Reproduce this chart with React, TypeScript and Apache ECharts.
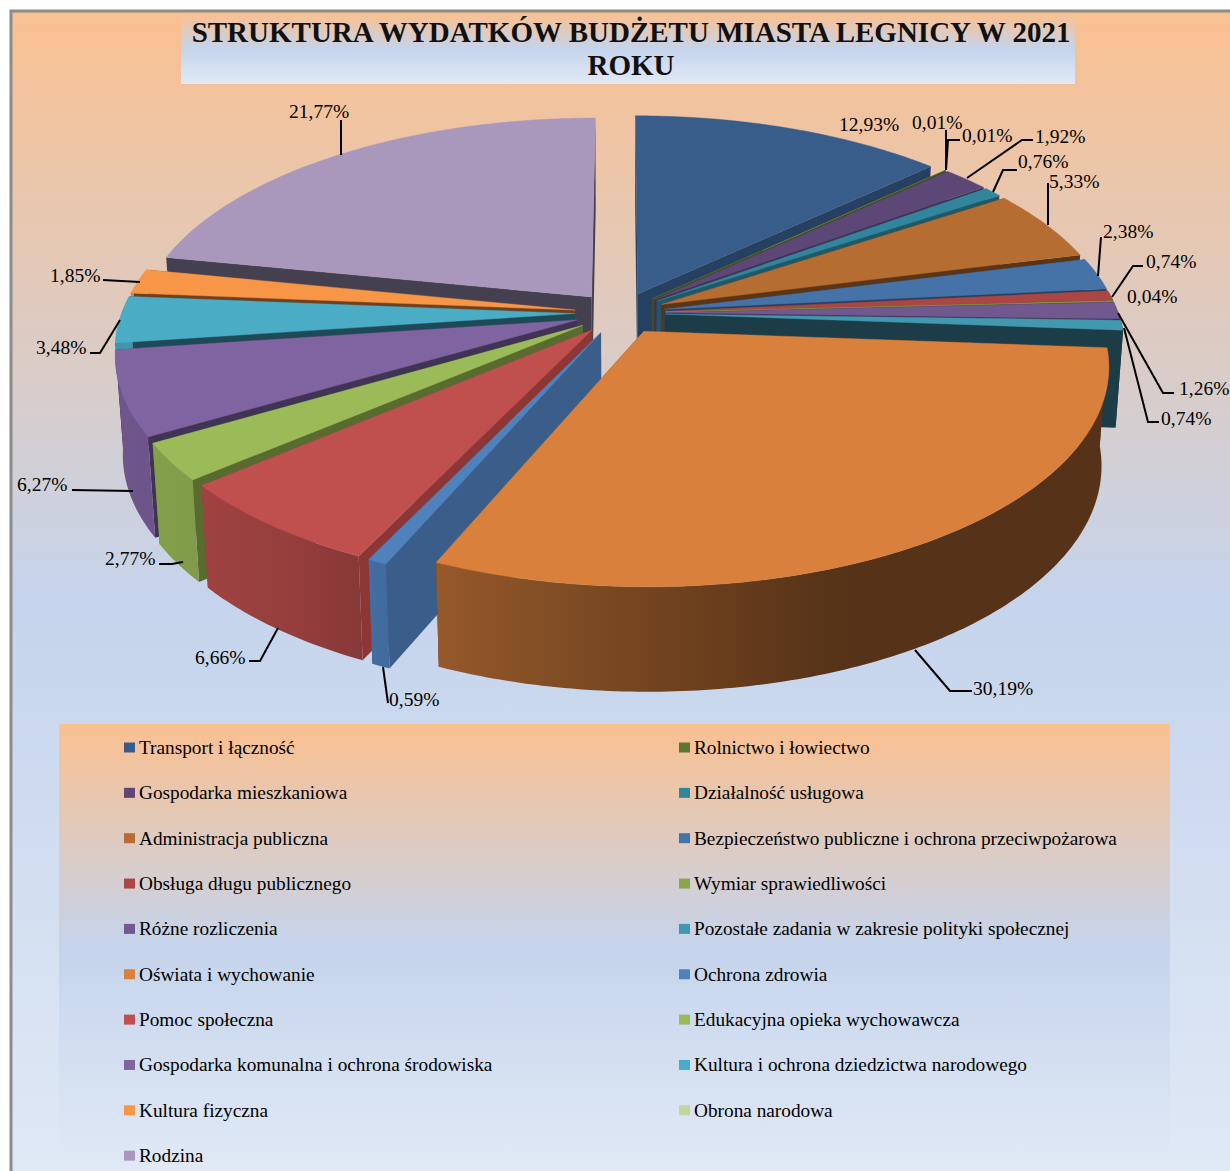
import React, { useEffect, useRef } from "react";
import * as echarts from "echarts";

const TITLE = "STRUKTURA WYDATKÓW BUDŻETU MIASTA LEGNICY W 2021\nROKU";

// Legend order
const categories = [
  "Transport i łączność",
  "Rolnictwo i łowiectwo",
  "Gospodarka mieszkaniowa",
  "Działalność usługowa",
  "Administracja publiczna",
  "Bezpieczeństwo publiczne i ochrona przeciwpożarowa",
  "Obsługa długu publicznego",
  "Wymiar sprawiedliwości",
  "Różne rozliczenia",
  "Pozostałe zadania w zakresie polityki społecznej",
  "Oświata i wychowanie",
  "Ochrona zdrowia",
  "Pomoc społeczna",
  "Edukacyjna opieka wychowawcza",
  "Gospodarka komunalna i ochrona środowiska",
  "Kultura i ochrona dziedzictwa narodowego",
  "Kultura fizyczna",
  "Obrona narodowa",
  "Rodzina",
];
const values = [12.93, 0.01, 1.92, 0.76, 5.33, 2.38, 0.74, 0.04, 1.26, 0.74, 30.19, 0.59, 6.66, 2.77, 6.27, 3.48, 1.85, 0.01, 21.77];

// Clockwise order of the slices, as indices into categories
const sliceOrder = [0, 1, 17, 2, 3, 4, 5, 6, 7, 8, 9, 10, 11, 12, 13, 14, 15, 16, 18];

// Styling tables, by category index
const topColors = ["#385d8a", "#5f7530", "#5c4776", "#31859c", "#b66d31", "#4573a7", "#aa4644", "#89a54e", "#71588f", "#4198af", "#d8803c", "#4f81bd", "#bf504e", "#9bbb59", "#8064a2", "#4bacc6", "#f79646", "#c3d69b", "#aa98bc"];
const sideColors = ["#254061", "#3f4f20", "#3f3152", "#205867", "#5a3518", "#24405f", "#6f2e2d", "#56682f", "#3f3152", "#1c3c48", "#5a3518", "#3a5d8a", "#8c3735", "#5a6b2f", "#403455", "#1e4a58", "#6e4020", "#3f4f20", "#45404f"];
const faceStroke: Record<number, number> = { 1: 0.9, 17: 0 };
const wallBoost: Record<number, number> = { 11: 1.2 };

// Data-label placement, by category index: text left/middle and leader polyline
const labelLayout: Record<number, { x: number; y: number; line?: number[][] }> = {
  0: { x: 839, y: 124 },
  1: { x: 912, y: 122, line: [[946, 130], [946, 170]] },
  17: { x: 962, y: 135, line: [[960, 140], [948, 140], [946, 170]] },
  2: { x: 1035, y: 136, line: [[1033, 140], [1022, 140], [967, 178]] },
  3: { x: 1018, y: 161, line: [[1017, 170], [1003, 170], [993, 192]] },
  4: { x: 1049, y: 181, line: [[1048, 183], [1048, 225]] },
  5: { x: 1103, y: 231, line: [[1101, 237], [1098, 276]] },
  6: { x: 1146, y: 261, line: [[1143, 266], [1133, 266], [1112, 297]] },
  7: { x: 1127, y: 296 },
  8: { x: 1179, y: 388, line: [[1174, 393], [1163, 393], [1118, 313]] },
  9: { x: 1161, y: 418, line: [[1159, 422], [1148, 422], [1124, 328]] },
  10: { x: 973, y: 688, line: [[972, 691], [950, 691], [915, 650]] },
  11: { x: 389, y: 699, line: [[388, 703], [383, 667]] },
  12: { x: 195, y: 657, line: [[249, 661], [260, 661], [278, 628]] },
  13: { x: 105, y: 558, line: [[159, 564], [172, 564], [183, 562]] },
  14: { x: 17, y: 484, line: [[72, 490], [133, 491]] },
  15: { x: 36, y: 347, line: [[90, 353], [100, 353], [120, 320]] },
  16: { x: 50, y: 275, line: [[103, 280], [140, 282]] },
  18: { x: 289, y: 111, line: [[341, 120], [341, 155]] },
};

// Projection of the 3D pie
const CX = 620, CY = 313, W = 453, A = 210.6, B = 0.152, DEPTH = 97, DEPTH_B = 0.07, LEAN = 0.015, EXPLODE = 0.1;

const total = values.reduce((a, b) => a + b, 0);
const rad = (d: number) => (d * Math.PI) / 180;

const angles: Record<number, { start: number; end: number; mid: number }> = {};
{
  let acc = 0;
  sliceOrder.forEach((idx) => {
    const start = (acc / total) * 360;
    acc += values[idx];
    const end = (acc / total) * 360;
    angles[idx] = { start, end, mid: (start + end) / 2 };
  });
}

function project(u: number, v: number, z: number): number[] {
  const den = 1 + B * v;
  return [CX + ((W * u) / den) * (1 - LEAN * z), CY - (A * v) / den + (z * DEPTH) / (1 + DEPTH_B * v)];
}
function slicePoint(mid: number, theta: number, r: number, z: number) {
  const ou = EXPLODE * Math.sin(rad(mid));
  const ov = EXPLODE * Math.cos(rad(mid));
  return project(ou + r * Math.sin(rad(theta)), ov + r * Math.cos(rad(theta)), z);
}

const SHADE_STOPS = [[80, 0.4], [160, 0.4], [175, 0.5], [190, 0.6], [203, 0.69], [215, 0.78], [235, 0.85], [280, 0.87]];
function shade(theta: number) {
  for (let i = 1; i < SHADE_STOPS.length; i++) {
    const [a, sa] = SHADE_STOPS[i - 1];
    const [b, sb] = SHADE_STOPS[i];
    if (theta <= b) return sa + ((sb - sa) * (theta - a)) / (b - a);
  }
  return 0.87;
}
function scaled(hex: string, k: number) {
  const n = parseInt(hex.slice(1), 16);
  const c = [(n >> 16) & 255, (n >> 8) & 255, n & 255].map((x) => Math.round(x * k));
  return `rgb(${c[0]},${c[1]},${c[2]})`;
}

function arcThetas(s: number, e: number) {
  const out: number[] = [];
  const steps = Math.max(1, Math.ceil((e - s) / 0.8));
  for (let i = 0; i <= steps; i++) out.push(s + ((e - s) * i) / steps);
  return out;
}

function renderSlice(idx: number) {
  const { start, end, mid } = angles[idx];
  const children: any[] = [];
  const color = topColors[idx];
  const side = sideColors[idx];

  const radial = (t: number) => ({
    type: "polygon",
    shape: { points: [slicePoint(mid, t, 0, 0), slicePoint(mid, t, 1, 0), slicePoint(mid, t, 1, 1), slicePoint(mid, t, 0, 1)] },
    style: { fill: side },
  });
  // Back-facing radial wall first
  const startN = Math.cos(rad(start - 90));
  const endN = Math.cos(rad(end + 90));
  const walls = startN > endN ? [radial(start), radial(end)] : [radial(end), radial(start)];
  children.push(...walls);

  const ws = Math.max(start, 86);
  const we = Math.min(end, 276);
  if (we > ws) {
    const ts = arcThetas(ws, we);
    const top = ts.map((t) => slicePoint(mid, t, 1, 0));
    const bot = ts.map((t) => slicePoint(mid, t, 1, 1));
    const xs = top.map((p) => p[0]).concat(bot.map((p) => p[0]));
    const minX = Math.min(...xs), maxX = Math.max(...xs);
    const boost = wallBoost[idx] ?? 1;
    const stops = ts
      .filter((_, i) => i % 6 === 0 || i === ts.length - 1)
      .map((t) => ({
        offset: Math.min(1, Math.max(0, (slicePoint(mid, t, 1, 0.5)[0] - minX) / Math.max(1, maxX - minX))),
        color: scaled(color, shade(t) * boost),
      }))
      .sort((a, b) => a.offset - b.offset);
    children.push({
      type: "polygon",
      shape: { points: top.concat(bot.slice().reverse()) },
      style: { fill: { type: "linear", x: 0, y: 0, x2: 1, y2: 0, colorStops: stops } },
    });
  }

  const face = [slicePoint(mid, start, 0, 0)].concat(arcThetas(start, end).map((t) => slicePoint(mid, t, 1, 0)));
  const lw = faceStroke[idx] ?? 0.4;
  children.push({ type: "polygon", shape: { points: face }, style: { fill: color, stroke: lw > 0 ? color : "none", lineWidth: lw } });
  return { type: "group", children };
}

const frontDistance = (d: number) => {
  const x = Math.abs(d - 165);
  return x > 180 ? 360 - x : x;
};
const depthRank = sliceOrder
  .slice()
  .sort((a, b) => frontDistance(angles[b].mid) - frontDistance(angles[a].mid));

const pctText = (v: number) => v.toFixed(2).replace(".", ",") + "%";

const fade = { type: "linear", x: 0, y: 0, x2: 0, y2: 1, colorStops: [
  { offset: 0, color: "#fac090" },
  { offset: 0.5, color: "#c5d4ec" },
  { offset: 1, color: "#e1e9f6" },
] };

const SERIF = "'Liberation Serif', serif";

function legendFor(left: number, names: string[]) {
  return {
    orient: "vertical",
    left,
    top: 738,
    itemWidth: 11,
    itemHeight: 10,
    itemGap: 26.35,
    selectedMode: false,
    icon: "rect",
    padding: 0,
    data: names,
    textStyle: { fontFamily: SERIF, fontSize: 19.3, color: "#000", padding: [0, 0, 0, -1], lineHeight: 18 },
  };
}

export default function App() {
  const ref = useRef<HTMLDivElement>(null);
  useEffect(() => {
    const chart = echarts.init(ref.current!, undefined, { renderer: "svg" });
    const series: any[] = depthRank.map((idx, rank) => ({
      type: "custom",
      name: categories[idx],
      coordinateSystem: "none",
      z: 5 + rank,
      silent: true,
      itemStyle: { color: topColors[idx] },
      data: [[values[idx]]],
      renderItem: () => renderSlice(idx),
    }));
    series.push({
      type: "custom",
      name: "etykiety",
      coordinateSystem: "none",
      z: 60,
      silent: true,
      data: sliceOrder.map((idx) => [idx, values[idx]]),
      renderItem: (_: any, api: any) => {
        const idx = api.value(0);
        const l = labelLayout[idx];
        const children: any[] = [];
        if (l.line) {
          children.push({ type: "polyline", shape: { points: l.line }, style: { stroke: "#000", lineWidth: 2, fill: "none" } });
        }
        children.push({
          type: "text",
          style: { text: pctText(api.value(1)), x: l.x, y: l.y, font: `19.5px ${SERIF}`, fill: "#000", textAlign: "left", textVerticalAlign: "middle" },
        });
        return { type: "group", children };
      },
    });
    chart.setOption({
      animation: false,
      title: {
        text: TITLE,
        left: 626,
        top: 10,
        textAlign: "center",
        textStyle: { fontFamily: SERIF, fontWeight: "bold", fontSize: 29, lineHeight: 33, color: "#111" },
      },
      legend: [
        legendFor(124, categories.filter((_, i) => i % 2 === 0)),
        legendFor(679, categories.filter((_, i) => i % 2 === 1)),
      ],
      graphic: [
        { type: "rect", z: -10, shape: { x: 11, y: 11, width: 1240, height: 1180 }, style: { fill: fade, stroke: "#8c8c8c", lineWidth: 3 } },
        { type: "rect", z: -9, shape: { x: 181, y: 14, width: 894, height: 70 }, style: { fill: fade } },
        { type: "rect", z: -9, shape: { x: 59, y: 724, width: 1111, height: 447 }, style: { fill: fade } },
      ],
      series,
    });
    return () => chart.dispose();
  }, []);
  return <div ref={ref} style={{ position: "absolute", left: 0, top: 0, width: 1230, height: 1171 }} />;
}
